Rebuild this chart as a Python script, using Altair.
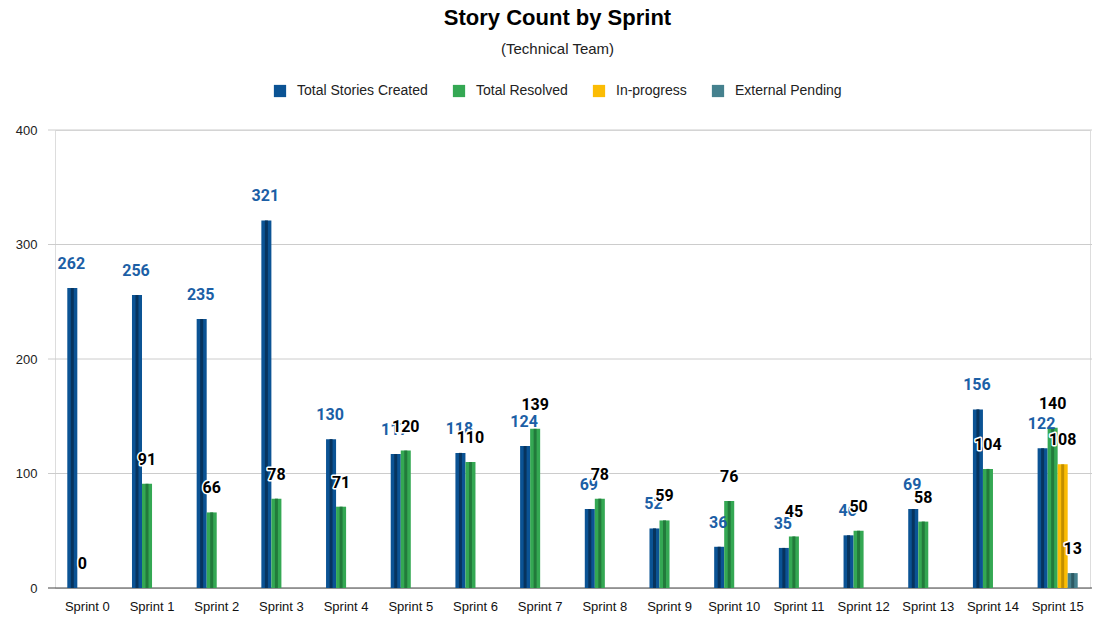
import altair as alt
import pandas as pd

sprints = [f"Sprint {i}" for i in range(16)]
total_created = [262, 256, 235, 321, 130, 117, 118, 124, 69, 52, 36, 35, 46, 69, 156, 122]
total_resolved = [0, 91, 66, 78, 71, 120, 110, 139, 78, 59, 76, 45, 50, 58, 104, 140]
in_progress = [None] * 15 + [108]
external_pending = [None] * 15 + [13]
series_names = ["Total Stories Created", "Total Resolved", "In-progress", "External Pending"]
y_ticks = [0, 100, 200, 300, 400]

colors = ["#0b5394", "#34a853", "#fbbc04", "#45818e"]
dark_colors = ["#07345e", "#227a3b", "#c28f00", "#2c5a64"]

rows = []
for i, s in enumerate(sprints):
    for name, vals in zip(series_names, [total_created, total_resolved, in_progress, external_pending]):
        v = vals[i]
        if v is not None:
            rows.append({"sprint": s, "series": name, "value": v})
df = pd.DataFrame(rows)
grid_df = pd.DataFrame({"g": y_ticks[1:]})
zero_df = pd.DataFrame({"g": [0]})

W, H = 1035, 458

x_enc = alt.X("sprint:N", sort=sprints,
              scale=alt.Scale(paddingInner=0.38, paddingOuter=0.19),
              axis=alt.Axis(title=None, labelAngle=0, ticks=False, domain=False,
                            labelFontSize=13, labelColor="#111", labelFont="Liberation Sans",
                            labelPadding=12))
xo_enc = alt.XOffset("series:N", sort=series_names,
                     scale=alt.Scale(domain=series_names, paddingInner=0, paddingOuter=0))
y_enc = alt.Y("value:Q", scale=alt.Scale(domain=[0, 400]),
              axis=alt.Axis(title=None, values=y_ticks, grid=False, domain=False, ticks=False,
                            labelFontSize=13, labelColor="#222", labelFont="Liberation Sans",
                            labelPadding=18))

grid = alt.Chart(grid_df).mark_rule(color="#cccccc", strokeWidth=1).encode(
    y=alt.Y("g:Q"), x=alt.value(-7), x2=alt.value(W + 12))
zero = alt.Chart(zero_df).mark_rule(color="#444444", strokeWidth=1.2).encode(
    y=alt.Y("g:Q"), x=alt.value(-7), x2=alt.value(W + 12))

bars = alt.Chart(df).mark_bar().encode(
    x=x_enc, xOffset=xo_enc, y=y_enc,
    color=alt.Color("series:N", sort=series_names,
                    scale=alt.Scale(domain=series_names, range=colors),
                    legend=alt.Legend(title=None, orient="none", legendX=218, legendY=-46,
                                      direction="horizontal", symbolType="square",
                                      symbolSize=150, symbolStrokeWidth=0,
                                      labelFontSize=14, labelFont="Liberation Sans",
                                      labelColor="#222", columnPadding=24, labelOffset=10)))

faces = alt.Chart(df).mark_bar(width=3, xOffset=3.5).encode(
    x=x_enc, xOffset=xo_enc, y=y_enc,
    color=alt.Color("series:N", sort=series_names,
                    scale=alt.Scale(domain=series_names, range=dark_colors), legend=None))

blue_labels = alt.Chart(df).transform_filter(
    alt.datum.series == series_names[0]
).mark_text(dy=-24, dx=-1, baseline="middle", fontSize=16, fontWeight="bold",
            font="Roboto", color="#1c5fa6").encode(
    x=x_enc, xOffset=xo_enc, y=y_enc, text="value:Q")

other_halo = alt.Chart(df).transform_filter(
    alt.datum.series != series_names[0]
).mark_text(dy=-24, baseline="middle", fontSize=16, fontWeight="bold",
            font="Roboto", color="white", stroke="white", strokeWidth=3,
            strokeJoin="round").encode(
    x=x_enc, xOffset=xo_enc, y=y_enc, text="value:Q")

other_labels = alt.Chart(df).transform_filter(
    alt.datum.series != series_names[0]
).mark_text(dy=-24, baseline="middle", fontSize=16, fontWeight="bold",
            font="Roboto", color="#000000").encode(
    x=x_enc, xOffset=xo_enc, y=y_enc, text="value:Q")

chart = alt.layer(grid, zero, bars, faces, blue_labels, other_halo, other_labels).resolve_scale(
    color="independent"
).properties(
    width=W, height=H,
    autosize=alt.AutoSizeParams(type="none"),
    padding={"left": 47, "top": 122, "right": 2, "bottom": 28},
    title=alt.TitleParams(
        text="Story Count by Sprint",
        subtitle="(Technical Team)",
        anchor="middle", dx=-15, offset=26,
        font="Liberation Sans", fontSize=22, fontWeight="bold", color="#000",
        subtitleFont="Liberation Sans", subtitleFontSize=15, subtitleColor="#222",
        subtitlePadding=12),
).configure_view(stroke=None).configure(background="white")

chart.save("out.html", embed_options={"renderer": "svg", "actions": False})
